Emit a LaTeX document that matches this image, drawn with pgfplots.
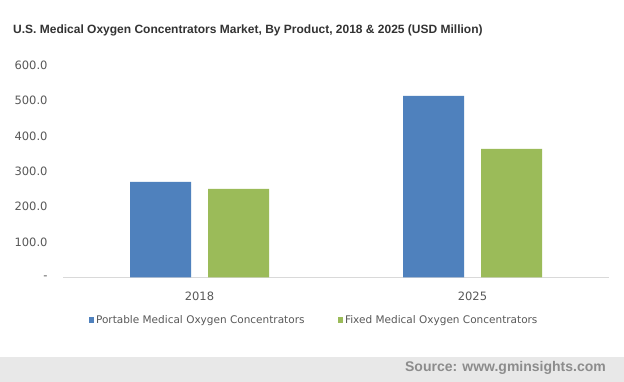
\documentclass[border=0pt]{standalone}
\usepackage{pgfplots}
\pgfplotsset{compat=1.18}
\usepackage{fontspec}
\setmainfont{DejaVu Sans}
\newfontfamily\arialfont{Liberation Sans}
\definecolor{cblue}{HTML}{4F81BD}
\definecolor{cgreen}{HTML}{9BBB59}
\definecolor{ctext}{HTML}{595959}
\definecolor{ctitle}{HTML}{333333}
\definecolor{cband}{HTML}{E8E8E8}
\definecolor{csrc}{HTML}{8C8C8C}
\definecolor{cbase}{HTML}{D9D9D9}
\begin{document}
\begin{tikzpicture}
\fill[white] (0,0) rectangle (624bp,382bp);
\fill[cband] (0,0) rectangle (624bp,25bp);
\node[anchor=west,inner sep=0pt,text=ctitle,font=\arialfont\bfseries\fontsize{12bp}{14bp}\selectfont] at (13bp,352bp) {U.S. Medical Oxygen Concentrators Market, By Product, 2018 \& 2025 (USD Million)};
\node[anchor=east,inner sep=0pt,text=csrc,font=\arialfont\bfseries\fontsize{14bp}{16bp}\selectfont] at (606bp,14bp) {Source: www.gminsights.com};
\begin{axis}[
  at={(63bp,104.5bp)}, anchor=south west,
  scale only axis, width=546bp, height=212.5bp,
  xmin=-0.5, xmax=1.5, ymin=0, ymax=600,
  ybar=17bp, bar width=61bp,
  axis lines*=left,
  y axis line style={draw=none},
  x axis line style={draw=cbase, line width=0.8bp},
  major tick length=0pt,
  xtick={0,1}, xticklabels={2018,2025},
  ytick={0,100,200,300,400,500,600},
  yticklabels={{-\hspace{10bp}},100.0,200.0,300.0,400.0,500.0,600.0},
  tick label style={text=ctext, font=\fontsize{11.5bp}{13bp}\selectfont},
  yticklabel style={xshift=-12bp},
  xticklabel style={yshift=-11bp},
  legend style={at={(0.5,-0.2)}, xshift=-22bp, anchor=center, draw=none, fill=none,
    legend columns=2, font=\fontsize{10.5bp}{12bp}\selectfont, text=ctext,
    /tikz/every even column/.append style={column sep=31bp}},
  legend image code/.code={\fill[#1,draw=none] (-4bp,-2.75bp) rectangle (1.5bp,2.75bp);},
]
\addplot[fill=cblue, draw=none] coordinates {(0,270) (1,513)};
\addplot[fill=cgreen, draw=none] coordinates {(0,250) (1,363)};
\legend{Portable Medical Oxygen Concentrators, Fixed Medical Oxygen Concentrators}
\end{axis}
\pgfresetboundingbox
\useasboundingbox (0,0) rectangle (624bp,382bp);
\end{tikzpicture}
\end{document}
